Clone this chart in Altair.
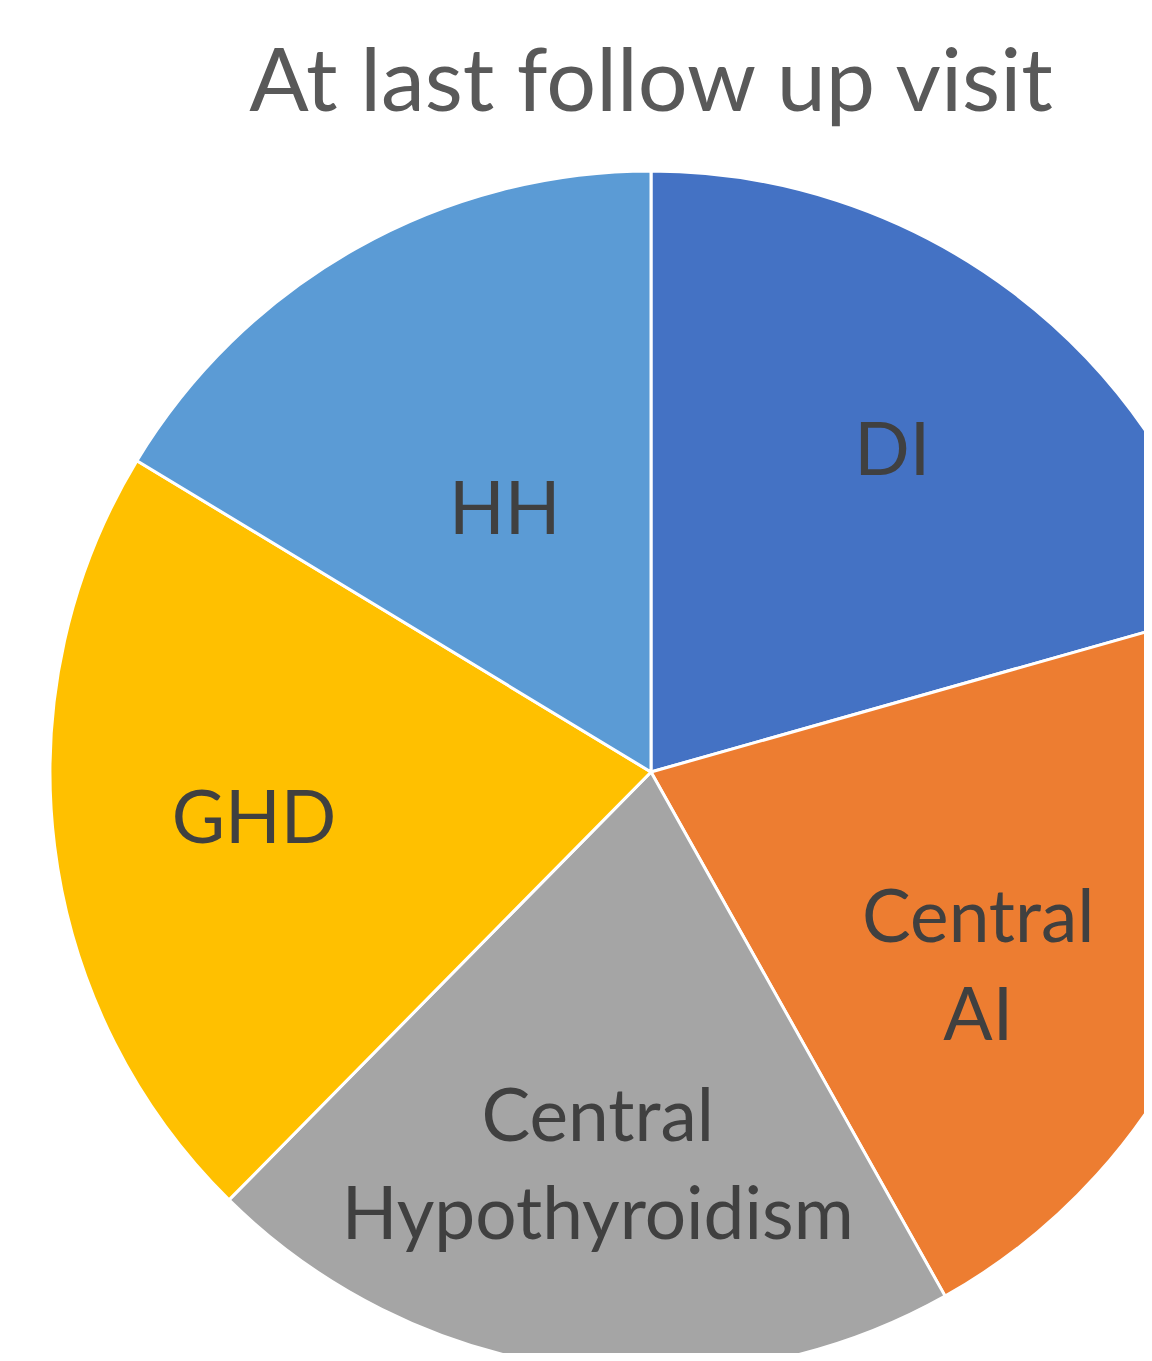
import altair as alt
import pandas as pd

categories = ["DI", "Central AI", "Central Hypothyroidism", "GHD", "HH"]
labels = ["DI", "Central\nAI", "Central\nHypothyroidism", "GHD", "HH"]
values = [74.2, 76.5, 73.9, 76.6, 58.8]
colors = ["#4472C4", "#ED7D31", "#A5A5A5", "#FFC000", "#5B9BD5"]
title_text = "At last follow up visit"

df = pd.DataFrame({
    "category": categories,
    "label": labels,
    "value": values,
    "idx": list(range(len(categories))),
})

W, H = 1136, 1345
CX, CY = 643, 764
R = 601

base = alt.Chart(df).encode(
    theta=alt.Theta("value:Q", stack=True),
    order=alt.Order("idx:Q"),
)

pie = base.mark_arc(radius=R, stroke="white", strokeWidth=3).encode(
    color=alt.Color("category:N", scale=alt.Scale(domain=categories, range=colors), legend=None),
    x=alt.value(CX),
    y=alt.value(CY),
)

text_kw = dict(font="Lato", fontSize=73, color="#404040", lineBreak="\n",
               align="center", baseline="middle", lineHeight=98)


def label_layer(cats, **mark_kw):
    cond = alt.FieldOneOfPredicate(field="category", oneOf=cats)
    return base.mark_text(**text_kw, **mark_kw).encode(
        text=alt.condition(cond, "label:N", alt.value("")),
        x=alt.value(CX),
        y=alt.value(CY),
    )


text_single = label_layer(["DI", "GHD"], radius=400)
text_hh = label_layer(["HH"], radius=298)
text_ch = label_layer(["Central Hypothyroidism"], radius=400, dy=-49)
text_ai = label_layer(["Central AI"], radius=382, thetaOffset=0.15, dy=-49)

title = alt.Chart(pd.DataFrame({"t": [title_text]})).mark_text(
    font="Lato", fontSize=88, color="#595959", baseline="alphabetic", align="center",
).encode(text="t:N", x=alt.value(CX), y=alt.value(103))

chart = alt.layer(pie, text_single, text_hh, text_ch, text_ai, title).properties(
    width=W, height=H,
    autosize=alt.AutoSizeParams(type="none"),
    padding=0,
).configure_view(stroke=None)

chart.save("out.html", embed_options={"renderer": "svg", "actions": False})
